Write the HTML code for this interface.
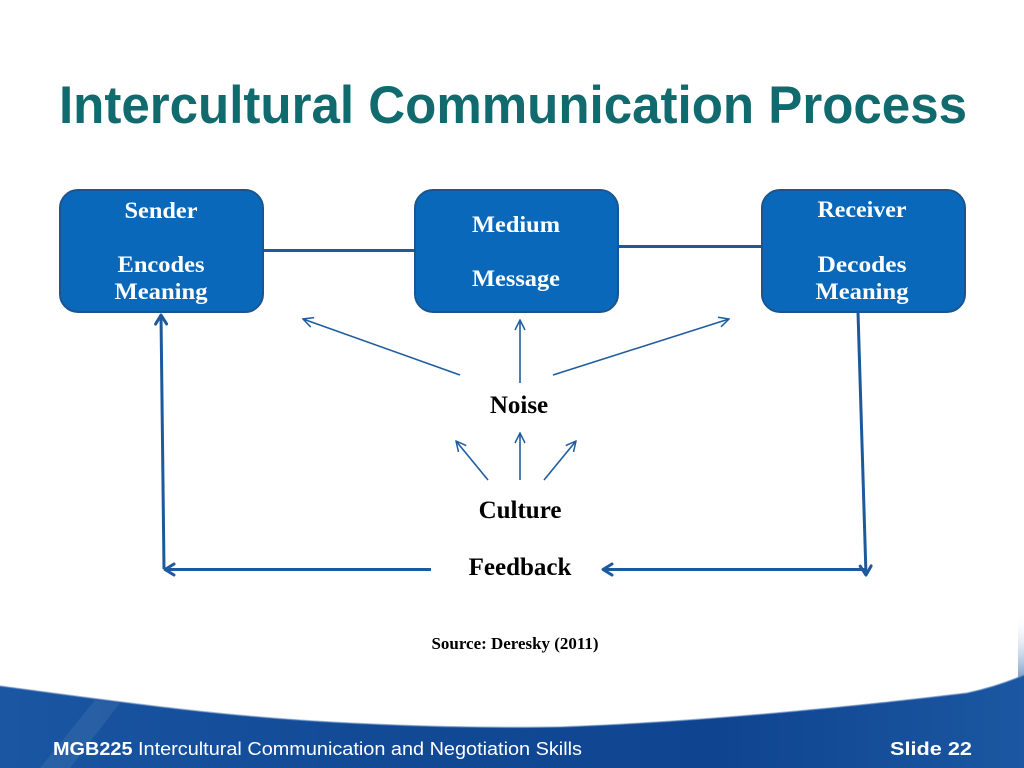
<!DOCTYPE html>
<html>
<head>
<meta charset="utf-8">
<style>
  html,body{margin:0;padding:0;background:#fff;}
  body{width:1024px;height:768px;overflow:hidden;}
  svg{display:block;}
</style>
</head>
<body>
<svg width="1024" height="768" viewBox="0 0 1024 768" xmlns="http://www.w3.org/2000/svg">
  <defs>
    <linearGradient id="foot" x1="0" y1="0" x2="1" y2="0">
      <stop offset="0" stop-color="#1a56a2"/>
      <stop offset="0.35" stop-color="#124a96"/>
      <stop offset="0.7" stop-color="#0f4490"/>
      <stop offset="1" stop-color="#1b57a2"/>
    </linearGradient>
    <linearGradient id="sliver" x1="0" y1="0" x2="0" y2="1">
      <stop offset="0" stop-color="#ffffff" stop-opacity="0"/>
      <stop offset="1" stop-color="#1b57a2"/>
    </linearGradient>
    <marker id="thin" viewBox="0 0 12 12" refX="11" refY="6" markerWidth="12" markerHeight="12" markerUnits="userSpaceOnUse" orient="auto">
      <path d="M1,1 L11,6 L1,11" fill="none" stroke="#1f5c9e" stroke-width="1.5"/>
    </marker>
    <marker id="thick" viewBox="0 0 14 14" refX="12" refY="7" markerWidth="14" markerHeight="14" markerUnits="userSpaceOnUse" orient="auto">
      <path d="M3,1.5 L12,7 L3,12.5" fill="none" stroke="#1d5a9c" stroke-width="3" stroke-linecap="round" stroke-linejoin="round"/>
    </marker>
  </defs>

  <!-- Title -->
  <text x="59" y="123" font-family="Liberation Sans, Arial, sans-serif" font-weight="bold" font-size="53" fill="#106a6e" textLength="908" lengthAdjust="spacingAndGlyphs">Intercultural Communication Process</text>

  <!-- connectors between boxes -->
  <line x1="262" y1="250.5" x2="415" y2="250.5" stroke="#1d5a9c" stroke-width="3"/>
  <line x1="617" y1="246.5" x2="762" y2="246.5" stroke="#1d5a9c" stroke-width="3"/>

  <!-- Boxes -->
  <rect x="60" y="190" width="203" height="122" rx="18" ry="18" fill="#0a68ba" stroke="#1b5590" stroke-width="2"/>
  <rect x="415" y="190" width="203" height="122" rx="18" ry="18" fill="#0a68ba" stroke="#1b5590" stroke-width="2"/>
  <rect x="762" y="190" width="203" height="122" rx="18" ry="18" fill="#0a68ba" stroke="#1b5590" stroke-width="2"/>

  <g font-family="Liberation Serif, 'Times New Roman', serif" font-weight="bold" font-size="23" fill="#ffffff" text-anchor="middle">
    <text x="161" y="218" textLength="73" lengthAdjust="spacingAndGlyphs">Sender</text>
    <text x="161" y="272" textLength="87" lengthAdjust="spacingAndGlyphs">Encodes</text>
    <text x="161" y="299" textLength="93" lengthAdjust="spacingAndGlyphs">Meaning</text>

    <text x="516" y="232" textLength="88" lengthAdjust="spacingAndGlyphs">Medium</text>
    <text x="516" y="286" textLength="88" lengthAdjust="spacingAndGlyphs">Message</text>

    <text x="862" y="217" textLength="89" lengthAdjust="spacingAndGlyphs">Receiver</text>
    <text x="862" y="272" textLength="89" lengthAdjust="spacingAndGlyphs">Decodes</text>
    <text x="862" y="299" textLength="93" lengthAdjust="spacingAndGlyphs">Meaning</text>
  </g>

  <!-- Noise arrows -->
  <g stroke="#1f5c9e" stroke-width="1.6" fill="none">
    <line x1="460" y1="375" x2="303" y2="319" marker-end="url(#thin)"/>
    <line x1="520" y1="383" x2="520" y2="320" marker-end="url(#thin)"/>
    <line x1="553" y1="375" x2="729" y2="319" marker-end="url(#thin)"/>
    <!-- Culture arrows -->
    <line x1="488" y1="480" x2="456" y2="441" marker-end="url(#thin)"/>
    <line x1="520" y1="480" x2="520" y2="433" marker-end="url(#thin)"/>
    <line x1="544" y1="480" x2="576" y2="441" marker-end="url(#thin)"/>
  </g>

  <!-- Feedback loop -->
  <g stroke="#1d5a9c" stroke-width="3" fill="none">
    <line x1="164" y1="569" x2="161" y2="315" marker-end="url(#thick)"/>
    <line x1="431" y1="569.5" x2="165" y2="569.5" marker-end="url(#thick)"/>
    <line x1="858" y1="312" x2="866" y2="575" marker-end="url(#thick)"/>
    <line x1="866" y1="569.5" x2="603" y2="569.5" marker-end="url(#thick)"/>
  </g>

  <!-- Labels -->
  <g font-family="Liberation Serif, 'Times New Roman', serif" font-weight="bold" fill="#000" text-anchor="middle">
    <text x="519" y="413" font-size="25">Noise</text>
    <text x="520" y="518" font-size="25">Culture</text>
    <text x="520" y="575" font-size="25">Feedback</text>
    <text x="515" y="649" font-size="16.5" textLength="167" lengthAdjust="spacingAndGlyphs">Source: Deresky (2011)</text>
  </g>

  <!-- Footer band -->
  <path d="M1018,615 L1024,612 L1024,680 L1018,680 Z" fill="url(#sliver)" opacity="0.6"/>
  <path d="M0,686 C120,702 220,716 330,722 C420,727 500,728 560,727 C700,722 860,706 967,693 C990,688 1010,681 1024,675 L1024,768 L0,768 Z" fill="url(#foot)"/>
  <path d="M40,768 L95,700 L120,703 L70,768 Z" fill="#ffffff" opacity="0.07"/>
  <path d="M0,686 C120,702 220,716 330,722 C420,727 500,728 560,727 C700,722 860,706 967,693 C990,688 1010,681 1024,675" fill="none" stroke="#6f93c6" stroke-width="1.5" opacity="0.6"/>

  <text x="53" y="755" font-family="Liberation Sans, Arial, sans-serif" font-size="18" fill="#ffffff" textLength="529" lengthAdjust="spacingAndGlyphs"><tspan font-weight="bold">MGB225</tspan> Intercultural Communication and Negotiation Skills</text>
  <text x="890" y="755" font-family="Liberation Sans, Arial, sans-serif" font-weight="bold" font-size="18" fill="#ffffff" textLength="82" lengthAdjust="spacingAndGlyphs">Slide  22</text>
</svg>
</body>
</html>
